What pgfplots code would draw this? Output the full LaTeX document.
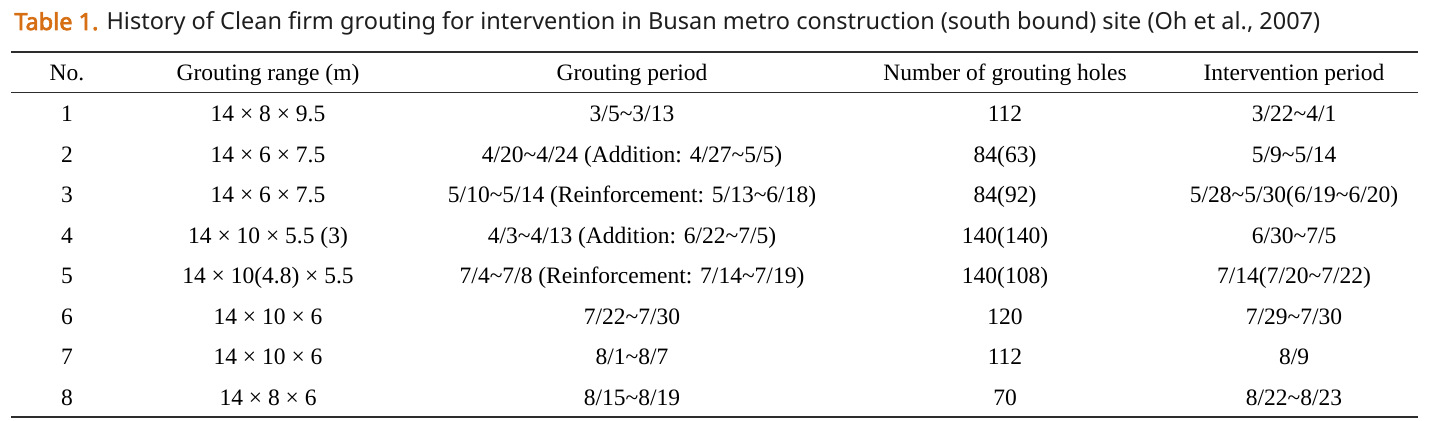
\documentclass[border=0pt]{standalone}
\usepackage{fontspec}
\setmainfont{Liberation Serif}
\newfontfamily\titlefont{Noto Sans}
\newfontfamily\titlebold{Noto Sans}[FakeBold=3]
\usepackage{pgfplots}
\pgfplotsset{compat=1.18}
\definecolor{tblorange}{RGB}{214,110,20}
\definecolor{rulegray}{RGB}{45,45,45}
\definecolor{titlegray}{RGB}{30,30,30}
\newcommand{\tl}{\textasciitilde}
\begin{document}
\begin{tikzpicture}
\begin{axis}[name=T, scale only axis, width=725bp, height=210.5bp,
  xmin=0, xmax=1450, ymin=0, ymax=421, y dir=reverse,
  hide axis, clip=false,
  nodes near coords align={anchor=base},
  every node near coord/.append style={anchor=base, inner sep=0pt, outer sep=0pt,
    font=\fontsize{11.75bp}{14bp}\selectfont, text=black}]
% rules
\addplot[rulegray, line width=1bp] coordinates {(11,52) (1418,52)};
\addplot[rulegray, line width=0.75bp] coordinates {(11,92.5) (1418,92.5)};
\addplot[rulegray, line width=1bp] coordinates {(11,417) (1418,417)};
% header
\addplot[only marks, mark=*, mark size=0pt, mark options={draw=none, fill=none},
  nodes near coords, point meta=explicit symbolic] coordinates {
(67,80) [No.]
(268,80) [Grouting range (m)]
(632,80) [Grouting period]
(1005,80) [Number of grouting holes]
(1294,80) [Intervention period]
};
% column 1: No.
\addplot[only marks, mark=*, mark size=0pt, mark options={draw=none, fill=none},
  nodes near coords, point meta=explicit symbolic] coordinates {
(67,121.7) [1]
(67,162.2) [2]
(67,202.7) [3]
(67,243.2) [4]
(67,283.7) [5]
(67,324.2) [6]
(67,364.7) [7]
(67,405.2) [8]
};
% column 2: Grouting range
\addplot[only marks, mark=*, mark size=0pt, mark options={draw=none, fill=none},
  nodes near coords, point meta=explicit symbolic] coordinates {
(268,121.7) [14 × 8 × 9.5]
(268,162.2) [14 × 6 × 7.5]
(268,202.7) [14 × 6 × 7.5]
(268,243.2) [14 × 10 × 5.5 (3)]
(268,283.7) [14 × 10(4.8) × 5.5]
(268,324.2) [14 × 10 × 6]
(268,364.7) [14 × 10 × 6]
(268,405.2) [14 × 8 × 6]
};
% column 3: Grouting period
\addplot[only marks, mark=*, mark size=0pt, mark options={draw=none, fill=none},
  nodes near coords, point meta=explicit symbolic] coordinates {
(632,121.7) [3/5\tl{}3/13]
(632,162.2) [4/20\tl{}4/24 (Addition: 4/27\tl{}5/5)]
(632,202.7) [5/10\tl{}5/14 (Reinforcement: 5/13\tl{}6/18)]
(632,243.2) [4/3\tl{}4/13 (Addition: 6/22\tl{}7/5)]
(632,283.7) [7/4\tl{}7/8 (Reinforcement: 7/14\tl{}7/19)]
(632,324.2) [7/22\tl{}7/30]
(632,364.7) [8/1\tl{}8/7]
(632,405.2) [8/15\tl{}8/19]
};
% column 4: Number of grouting holes
\addplot[only marks, mark=*, mark size=0pt, mark options={draw=none, fill=none},
  nodes near coords, point meta=explicit symbolic] coordinates {
(1005,121.7) [112]
(1005,162.2) [84(63)]
(1005,202.7) [84(92)]
(1005,243.2) [140(140)]
(1005,283.7) [140(108)]
(1005,324.2) [120]
(1005,364.7) [112]
(1005,405.2) [70]
};
% column 5: Intervention period
\addplot[only marks, mark=*, mark size=0pt, mark options={draw=none, fill=none},
  nodes near coords, point meta=explicit symbolic] coordinates {
(1294,121.7) [3/22\tl{}4/1]
(1294,162.2) [5/9\tl{}5/14]
(1294,202.7) [5/28\tl{}5/30(6/19\tl{}6/20)]
(1294,243.2) [6/30\tl{}7/5]
(1294,283.7) [7/14(7/20\tl{}7/22)]
(1294,324.2) [7/29\tl{}7/30]
(1294,364.7) [8/9]
(1294,405.2) [8/22\tl{}8/23]
};
\node[anchor=base west, inner sep=0pt, text=titlegray] at (axis cs:14,30)
  {\fontsize{11.75bp}{13bp}\selectfont\textcolor{tblorange}{\titlebold Table 1.}\titlefont{} History of Clean firm grouting for intervention in Busan metro construction (south bound) site (Oh et al., 2007)};
\end{axis}
\pgfresetboundingbox
\useasboundingbox (T.south west) rectangle (T.north east);
\end{tikzpicture}
\end{document}
